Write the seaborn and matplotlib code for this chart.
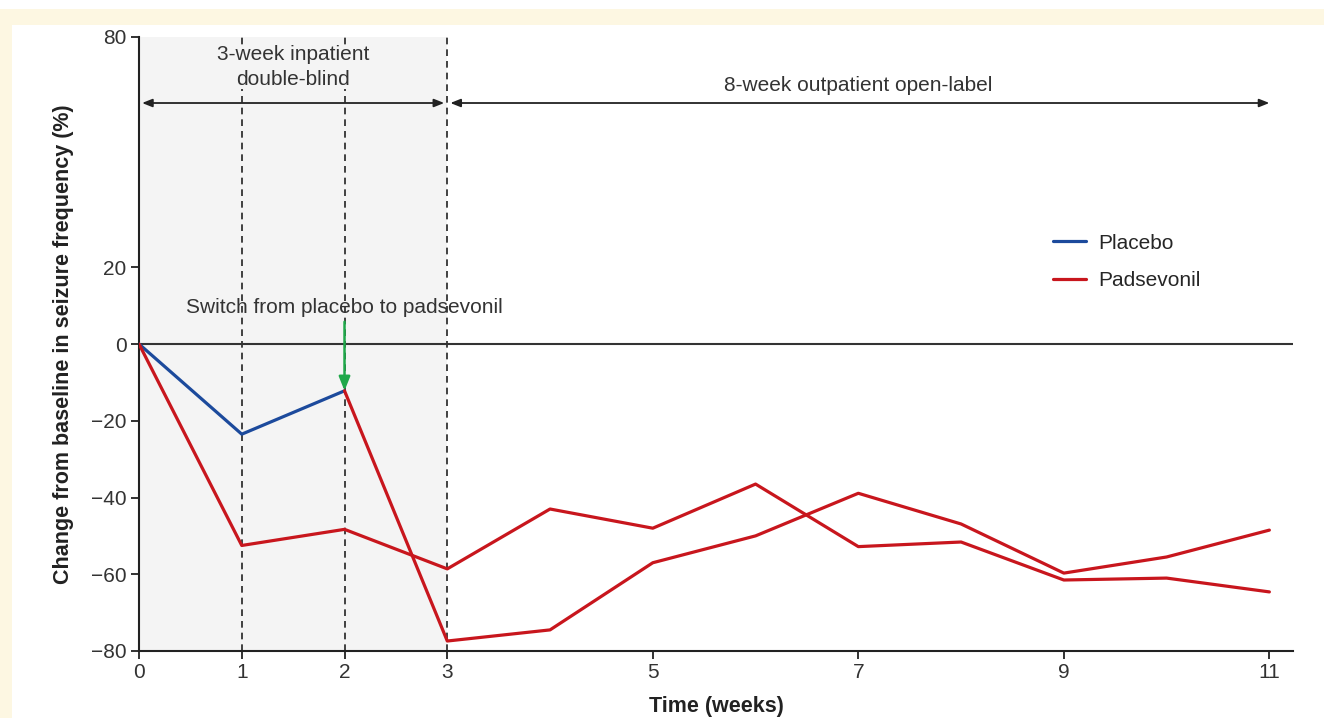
import numpy as np
import pandas as pd
import matplotlib.pyplot as plt
from matplotlib.patches import Rectangle
import seaborn as sns

# data
weeks_placebo = [0, 1, 2]
placebo = [0, -23.5, -12.2]

weeks_pad = [0, 1, 2, 3, 4, 5, 6, 7, 8, 9, 10, 11]
padsevonil = [0, -52.5, -48.3, -58.6, -43.0, -48.0, -36.5, -52.8, -51.6, -61.5, -61.0, -64.6]

weeks_switch = [2, 3, 4, 5, 6, 7, 8, 9, 10, 11]
switched = [-12.2, -77.4, -74.5, -57.0, -50.0, -38.9, -46.9, -59.7, -55.5, -48.5]

x_ticks = [0, 1, 2, 3, 5, 7, 9, 11]
y_ticks = [80, 20, 0, -20, -40, -60, -80]

df = pd.concat([
    pd.DataFrame({'week': weeks_placebo, 'change': placebo,
                  'Treatment': 'Placebo', 'arm': 'placebo'}),
    pd.DataFrame({'week': weeks_pad, 'change': padsevonil,
                  'Treatment': 'Padsevonil', 'arm': 'padsevonil'}),
    pd.DataFrame({'week': weeks_switch, 'change': switched,
                  'Treatment': 'Padsevonil', 'arm': 'switch'}),
], ignore_index=True)

sns.set_theme(style="ticks")
plt.rcParams['font.family'] = ['Liberation Sans', 'DejaVu Sans']

blue = '#1c4a9c'
red = '#c8161d'
green = '#1fa84a'
cream = '#fdf7e2'

fig = plt.figure(figsize=(13.24, 7.18), dpi=100)
fig.patch.set_facecolor('white')
fig.patches.append(Rectangle((0, 0), 12 / 1324, 1 - 9 / 718, transform=fig.transFigure,
                             facecolor=cream, edgecolor='none', zorder=-5))
fig.patches.append(Rectangle((0, 1 - 25 / 718), 1, 16 / 718, transform=fig.transFigure,
                             facecolor=cream, edgecolor='none', zorder=-5))

ax = fig.add_axes([139 / 1324, 67 / 718, (1293 - 139) / 1324, (651 - 37) / 718])
ax.set_facecolor('none')

# shaded inpatient period and dashed week markers
ax.axvspan(0, 3, color='#f4f4f4', zorder=0, lw=0)
for xv in [1, 2, 3]:
    ax.axvline(xv, color='#222222', ls=(0, (4, 3)), lw=1.2, zorder=1)
ax.axhline(0, color='#333333', lw=1.5, zorder=1)

sns.lineplot(data=df, x='week', y='change', hue='Treatment', units='arm',
             estimator=None, palette={'Placebo': blue, 'Padsevonil': red},
             hue_order=['Placebo', 'Padsevonil'], lw=2.3, ax=ax, zorder=3)

# period arrows and labels
arrow = dict(arrowstyle='<|-|>,head_length=0.5,head_width=0.2', color='#222222',
             lw=1.3, shrinkA=0, shrinkB=0)
ax.annotate('', xy=(0.03, 62.8), xytext=(2.97, 62.8), arrowprops=arrow)
ax.annotate('', xy=(3.03, 62.8), xytext=(11.0, 62.8), arrowprops=arrow)
ax.text(1.5, 72.2, '3-week inpatient\ndouble-blind', ha='center', va='center',
        fontsize=15, color='#333333', linespacing=1.35,
        bbox=dict(facecolor='#f4f4f4', edgecolor='none', pad=0.5))
ax.text(7.0, 67.3, '8-week outpatient open-label', ha='center', va='center',
        fontsize=15, color='#333333')
ax.text(2.0, 9.6, 'Switch from placebo to padsevonil', ha='center', va='center',
        fontsize=15, color='#333333')
ax.annotate('', xy=(2.0, -12.2), xytext=(2.0, 5.8),
            arrowprops=dict(arrowstyle='-|>,head_length=0.7,head_width=0.28',
                            color=green, lw=1.8, shrinkA=0, shrinkB=0), zorder=5)

ax.set_xlim(0, 11.23)
ax.set_ylim(-80, 80)
ax.set_xticks(x_ticks)
ax.set_yticks(y_ticks)
ax.tick_params(axis='both', labelsize=15, length=6, width=1.3, colors='#222222',
               labelcolor='#333333', pad=3)
sns.despine(ax=ax)
for s in ['left', 'bottom']:
    ax.spines[s].set_linewidth(1.5)
    ax.spines[s].set_color('#222222')

ax.set_xlabel('Time (weeks)', fontsize=15.5, fontweight='bold', color='#222222', labelpad=10)
ax.set_ylabel('Change from baseline in seizure frequency (%)', fontsize=15.5,
              fontweight='bold', color='#222222', labelpad=12)

leg = ax.legend(loc='upper left', bbox_to_anchor=(1034 / 1324, 1 - 215 / 718),
                bbox_transform=fig.transFigure, frameon=False, fontsize=15,
                handlelength=1.6, handletextpad=0.6, labelspacing=0.9)
for h in leg.get_lines():
    h.set_linewidth(2.3)

fig.savefig('out.png', dpi=100)
